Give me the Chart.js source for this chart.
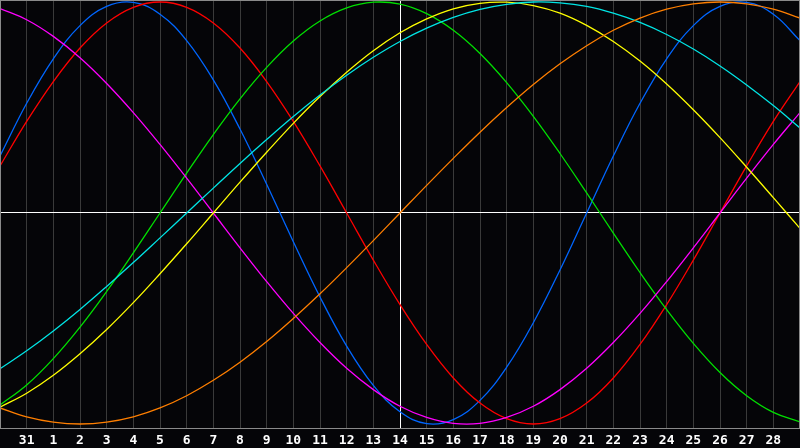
<!DOCTYPE html>
<html>
<head>
<meta charset="utf-8">
<script src="https://cdn.jsdelivr.net/npm/chart.js@4.4.1/dist/chart.umd.min.js"></script>
<style>
  html, body { margin: 0; padding: 0; background: #050508; }
  #wrap { width: 800px; height: 448px; }
</style>
</head>
<body>
<div id="wrap"><canvas id="c" width="800" height="448"></canvas></div>
<script>
// Day positions (index 0 = day "31"), including half-visible edge days
const dayIndex = [-1,0,1,2,3,4,5,6,7,8,9,10,11,12,13,14,15,16,17,18,19,20,21,22,23,24,25,26,27,28,29];
// Tick labels for indices 0..28
const dayLabels = ['31','1','2','3','4','5','6','7','8','9','10','11','12','13','14','15','16','17','18','19','20','21','22','23','24','25','26','27','28'];

// Curves (values -1..1)
const physical = [0.270,0.520,0.731,0.888,0.979,0.998,0.942,0.817,0.631,0.398,0.136,-0.136,-0.398,-0.631,-0.817,-0.942,-0.998,-0.979,-0.888,-0.731,-0.520,-0.270,0,0.270,0.520,0.731,0.888,0.979,0.998,0.942,0.817];
const emotional = [0.223,0.434,0.623,0.782,0.901,0.975,1.0,0.975,0.901,0.782,0.623,0.434,0.223,0,-0.223,-0.434,-0.623,-0.782,-0.901,-0.975,-1.0,-0.975,-0.901,-0.782,-0.623,-0.434,-0.223,0,0.223,0.434,0.623];
const intellectual = [-0.910,-0.815,-0.690,-0.541,-0.372,-0.189,0,0.189,0.372,0.541,0.690,0.815,0.910,0.972,0.999,0.990,0.945,0.866,0.756,0.618,0.458,0.282,0.095,-0.095,-0.282,-0.458,-0.618,-0.756,-0.866,-0.945,-0.990];
const intuitive = [0.969,0.916,0.837,0.736,0.614,0.476,0.325,0.165,0,-0.165,-0.325,-0.476,-0.614,-0.736,-0.837,-0.916,-0.969,-0.997,-0.997,-0.969,-0.916,-0.837,-0.736,-0.614,-0.476,-0.325,-0.165,0,0.165,0.325,0.476];
const aesthetic = [-0.920,-0.854,-0.769,-0.667,-0.552,-0.425,-0.288,-0.146,0,0.146,0.288,0.425,0.552,0.667,0.769,0.854,0.920,0.968,0.994,0.999,0.983,0.947,0.889,0.813,0.720,0.611,0.489,0.357,0.217,0.073,-0.073];
const awareness = [-0.924,-0.966,-0.991,-1.0,-0.991,-0.966,-0.924,-0.866,-0.793,-0.707,-0.609,-0.5,-0.383,-0.259,-0.131,0,0.131,0.259,0.383,0.5,0.609,0.707,0.793,0.866,0.924,0.966,0.991,1.0,0.991,0.966,0.924];
const spiritual = [-0.738,-0.653,-0.559,-0.457,-0.348,-0.235,-0.118,0,0.118,0.235,0.348,0.457,0.559,0.653,0.738,0.813,0.876,0.927,0.965,0.989,1.0,0.996,0.979,0.947,0.903,0.846,0.777,0.697,0.607,0.509,0.403];

const series = [
  { name: 'Awareness', data: awareness, color: '#ff7f00' },
  { name: 'Spiritual', data: spiritual, color: '#00e5e5' },
  { name: 'Aesthetic', data: aesthetic, color: '#ffff00' },
  { name: 'Intuitive', data: intuitive, color: '#ff00ff' },
  { name: 'Intellectual', data: intellectual, color: '#00e000' },
  { name: 'Emotional', data: emotional, color: '#ff0000' },
  { name: 'Physical', data: physical, color: '#0066ff' }
];

const framePlugin = {
  id: 'frame',
  beforeDraw(chart) {
    const c = chart.ctx;
    c.save();
    c.fillStyle = '#050508';
    c.fillRect(0, 0, chart.width, chart.height);
    c.restore();
  },
  afterDraw(chart) {
    const a = chart.chartArea, c = chart.ctx;
    c.save();
    c.strokeStyle = '#8a8a8a';
    c.lineWidth = 1;
    c.strokeRect(a.left + 0.5, a.top + 0.5, a.right - a.left - 1, a.bottom - a.top);
    c.restore();
  }
};

new Chart(document.getElementById('c'), {
  type: 'line',
  data: {
    datasets: series.map(s => ({
      label: s.name,
      data: s.data.map((v, k) => ({ x: dayIndex[k], y: v })),
      borderColor: s.color,
      borderWidth: 1.3,
      pointRadius: 0,
      tension: 0.4,
      fill: false
    }))
  },
  options: {
    responsive: false,
    animation: false,
    events: [],
    layout: { padding: 0 },
    plugins: { legend: { display: false }, tooltip: { enabled: false } },
    scales: {
      x: {
        type: 'linear',
        min: -1,
        max: 29,
        afterBuildTicks: axis => { axis.ticks = dayLabels.map((l, i) => ({ value: i })); },
        afterFit: axis => { axis.height = 20; },
        ticks: {
          autoSkip: false,
          maxRotation: 0,
          color: '#ffffff',
          padding: 5,
          font: { family: 'DejaVu Sans Mono', weight: 'bold', size: 13 },
          callback: v => dayLabels[v]
        },
        grid: {
          drawTicks: false,
          color: ctx => (ctx.tick && ctx.tick.value === 14) ? '#ffffff' : '#3a3a3a',
          lineWidth: 1
        },
        border: { display: true, color: '#8a8a8a' }
      },
      y: {
        min: -1.019,
        max: 1.0095,
        afterBuildTicks: axis => { axis.ticks = [{ value: 0 }]; },
        afterFit: axis => { axis.width = 0; },
        ticks: { display: false },
        grid: { drawTicks: false, color: '#ffffff', lineWidth: 1 },
        border: { display: false }
      }
    }
  },
  plugins: [framePlugin]
});
</script>
</body>
</html>
